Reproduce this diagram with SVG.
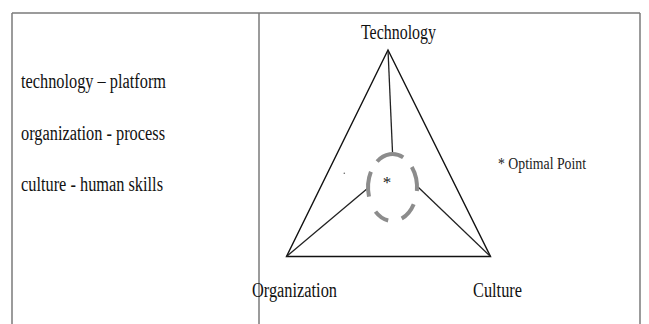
<svg xmlns="http://www.w3.org/2000/svg" width="649" height="324" viewBox="0 0 649 324">
  <style>
    .frame { fill: none; stroke: #7a7a7a; stroke-width: 1.5; }
    .edge { fill: none; stroke: #111; stroke-width: 1.4; stroke-linejoin: miter; }
    .spoke { fill: none; stroke: #222; stroke-width: 1.3; }
    .dash { fill: none; stroke: #8c8c8c; stroke-width: 4; stroke-linecap: butt; }
    .lbl { font-family: "Liberation Serif", "Times New Roman", serif; font-size: 20px; fill: #111; }
    .small { font-family: "Liberation Serif", "Times New Roman", serif; font-size: 17px; fill: #222; }
  </style>
  <rect width="649" height="324" fill="#fff"/>

  <!-- table frame: top rule, outer sides and column divider -->
  <g id="frame" class="frame">
    <line x1="12" y1="13" x2="640" y2="13"/>
    <line x1="12" y1="13" x2="12" y2="324"/>
    <line x1="259" y1="13" x2="259" y2="324"/>
    <line x1="640" y1="13" x2="640" y2="324"/>
  </g>

  <!-- legend column -->
  <g id="legend">
    <text class="lbl" x="21" y="88" textLength="145" lengthAdjust="spacingAndGlyphs">technology – platform</text>
    <text class="lbl" x="21" y="140" textLength="144" lengthAdjust="spacingAndGlyphs">organization - process</text>
    <text class="lbl" x="21" y="191" textLength="142" lengthAdjust="spacingAndGlyphs">culture - human skills</text>
  </g>

  <!-- triangle and spokes -->
  <g id="connectors">
    <polygon class="edge" points="388,50 286.5,256.5 490.5,256.5"/>
    <line class="spoke" x1="388" y1="50" x2="392.5" y2="152"/>
    <line class="spoke" x1="286.5" y1="256.5" x2="368" y2="188"/>
    <line class="spoke" x1="490.5" y1="256.5" x2="418" y2="187"/>
  </g>

  <g id="technology">
    <text class="lbl" x="361" y="39" textLength="75" lengthAdjust="spacingAndGlyphs">Technology</text>
  </g>
  <g id="organization">
    <text class="lbl" x="252" y="297" textLength="85" lengthAdjust="spacingAndGlyphs">Organization</text>
  </g>
  <g id="culture">
    <text class="lbl" x="473" y="297" textLength="49" lengthAdjust="spacingAndGlyphs">Culture</text>
  </g>

  <!-- optimal point: dashed ellipse drawn as separate arcs -->
  <g id="optimal">
    <path class="dash" d="M377.1,161.5 A24.5,33.5 0 0 1 403.2,157.4"/>
    <path class="dash" d="M411.8,166.9 A24.5,33.5 0 0 1 416.9,191.0"/>
    <path class="dash" d="M413.7,204.3 A24.5,33.5 0 0 1 401.7,218.6"/>
    <path class="dash" d="M388.2,220.5 A24.5,33.5 0 0 1 375.5,211.6"/>
    <path class="dash" d="M369.0,196.7 A24.5,33.5 0 0 1 370.9,171.8"/>
    <text class="small" x="387" y="188" text-anchor="middle">*</text>
    <circle cx="344.3" cy="173.3" r="0.8" fill="#666"/>
  </g>

  <g id="key">
    <text class="small" x="498" y="169" textLength="88" lengthAdjust="spacingAndGlyphs">* Optimal Point</text>
  </g>
</svg>
